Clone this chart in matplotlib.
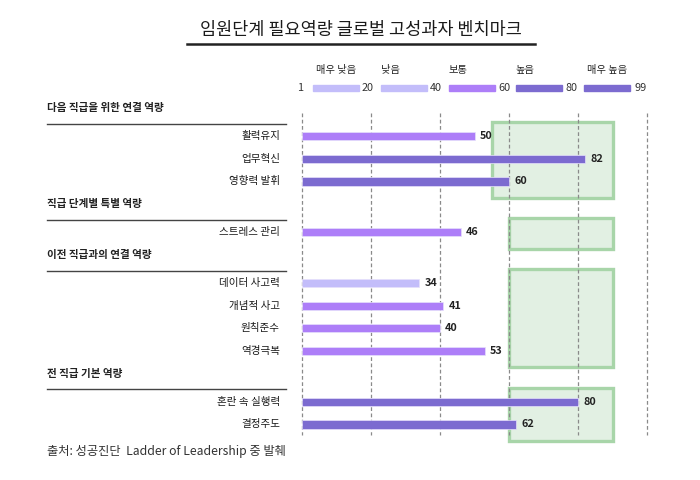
import matplotlib.pyplot as plt
from matplotlib.patches import Rectangle

plt.rcParams['font.family'] = ['Noto Sans CJK KR', 'DejaVu Sans']

# data
groups = ['다음 직급을 위한 연결 역량', '직급 단계별 특별 역량',
          '이전 직급과의 연결 역량', '전 직급 기본 역량']
items = [['활력유지', '업무혁신', '영향력 발휘'],
         ['스트레스 관리'],
         ['데이터 사고력', '개념적 사고', '원칙준수', '역경극복'],
         ['혼란 속 실행력', '결정주도']]
scores = [[50, 82, 60],
          [46],
          [34, 41, 40, 53],
          [80, 62]]
bench_lo = [55, 60, 60, 60]
bench_hi = [90, 90, 90, 90]

level_names = ['매우 낮음', '낮음', '보통', '높음', '매우 높음']
level_edges = [1, 20, 40, 60, 80, 99]
level_colors = ['#c3bdfa', '#c3bdfa', '#ad7ef8', '#7c6bd0', '#7c6bd0']

title = '임원단계 필요역량 글로벌 고성과자 벤치마크'
source = '출처: 성공진단  Ladder of Leadership 중 발췌'


def level_color(v):
    for i in range(len(level_colors)):
        if v < level_edges[i + 1]:
            return level_colors[i]
    return level_colors[-1]


fig = plt.figure(figsize=(7, 4.8), dpi=100)
W, H = 700, 480

# main axes: x 0..100 -> px 302..647, rows of 22.6 px, header 0 at px 108
ax = fig.add_axes([302 / W, 1 - 445 / H, 345 / W, 350 / H])
ax.set_ylim(14.91, -0.575)
ax.set_xlim(0, 100)
ax.axis('off')

for gx in range(0, 101, 20):
    ax.plot([gx, gx], [0.2, 14.45], ls=(0, (3, 2)), lw=0.9, color='#8a8a8a',
            zorder=1, clip_on=False)

px = lambda p: (p - 302) / 345 * 100  # figure px -> data x

y = 0.0
for g, names, vals, lo, hi in zip(groups, items, scores, bench_lo, bench_hi):
    ax.text(px(47), y, g, fontsize=7.6, fontweight='bold', color='#222222',
            ha='left', va='center', clip_on=False)
    ax.plot([px(47), px(286)], [y + 0.7, y + 0.7], color='#444444', lw=1.0,
            clip_on=False)
    ys = [y + 1.25 + i for i in range(len(vals))]
    ax.add_patch(Rectangle((lo, ys[0] - 0.62), hi - lo,
                           ys[-1] - ys[0] + 1.34, facecolor='#e2f0e3',
                           edgecolor='#a8d5a9', lw=2.4, zorder=0.5))
    for yy, n, v in zip(ys, names, vals):
        ax.barh(yy, v, height=0.36, color=level_color(v), edgecolor='#e6e0fb',
                lw=0.5, zorder=3)
        ax.text(v + 1.5, yy, str(v), fontsize=7.8, fontweight='bold',
                color='#222222', va='center', ha='left', zorder=4)
        ax.text(px(280), yy, n, fontsize=7.6, fontweight='medium',
                color='#1a1a1a', ha='right', va='center', clip_on=False)
    y = ys[-1] + 1.0

# legend axes in pixel coords
lax = fig.add_axes([0, 0, 1, 1])
lax.set_xlim(0, W)
lax.set_ylim(H, 0)
lax.axis('off')
sw_x = [313, 381, 449, 516, 584]
num_x = [300, 368, 436, 504, 572, 641]
name_x = [336, 391, 458, 525, 607]
for i, e in enumerate(level_edges):
    lax.text(num_x[i], 88, str(e), fontsize=7.8, ha='center', va='center',
             color='#333333')
for i, (nm, c) in enumerate(zip(level_names, level_colors)):
    lax.add_patch(Rectangle((sw_x[i], 85), 46, 6, color=c))
    lax.text(name_x[i], 70, nm, fontsize=7.4, fontweight='medium',
             ha='center', va='center', color='#222222')

lax.text(361, 30, title, fontsize=12.6, fontweight='medium', ha='center',
         va='center', color='#1a1a1a')
lax.plot([187, 535], [44, 44], color='#222222', lw=1.8)
lax.text(47, 452, source, fontsize=8.8, ha='left', va='center',
         color='#333333')

fig.savefig('out.png', dpi=100, facecolor='white')
